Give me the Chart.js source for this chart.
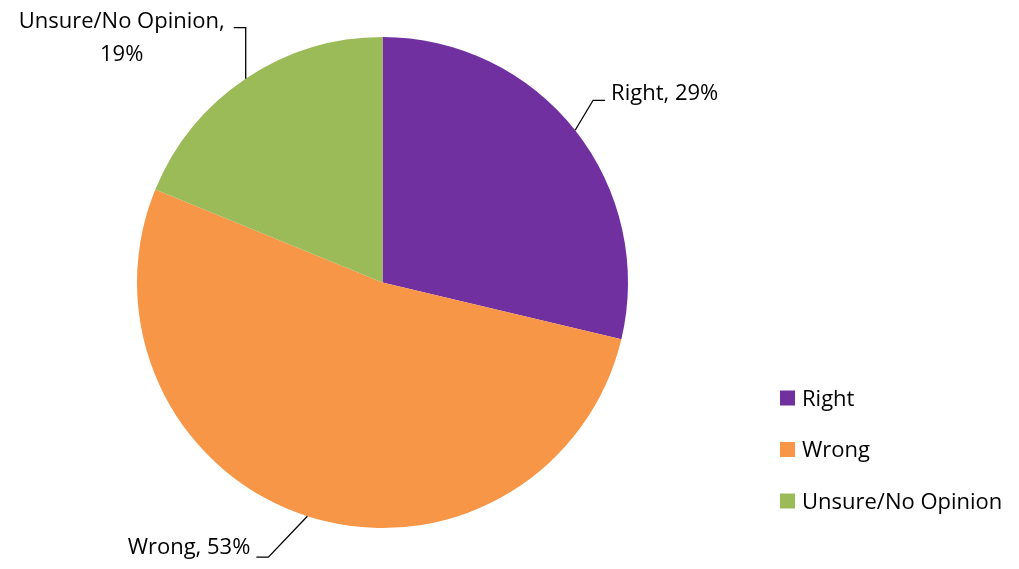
<!DOCTYPE html>
<html>
<head>
<meta charset="utf-8">
<script src="https://cdn.jsdelivr.net/npm/chart.js@4"></script>
<style>
    html, body { margin: 0; padding: 0; background: #fff; }
    #wrap { width: 1019px; height: 569px; position: relative; }
</style>
</head>
<body>
<div id="wrap"><canvas id="pieChart"></canvas></div>
<script>
const categories = ['Right', 'Wrong', 'Unsure/No Opinion'];
const shares = [29, 53, 19];
const sliceColors = ['#7030A0', '#F79646', '#9BBB59'];

const FONT = '22px "Open Sans", Carlito, Calibri, sans-serif';

// leader line layout per slice: elbow offset from arc point, then a short horizontal run
const leaderLayout = [
    { dx: 18, dy: -30, run: 12, side: 'right', base: 0, lines: (c, v) => [c + ', ' + v + '%'] },
    { dx: -39, dy: 41, run: -12, side: 'left', base: -3, lines: (c, v) => [c + ', ' + v + '%'] },
    { dx: 0, dy: -51, run: -12, side: 'left', base: 0, lines: (c, v) => [c + ',', v + '%'] },
];

const leaderLabels = {
    id: 'leaderLabels',
    afterDatasetsDraw(chart) {
        const ctx = chart.ctx;
        const meta = chart.getDatasetMeta(0);
        ctx.save();
        ctx.font = FONT;
        ctx.fillStyle = '#000';
        ctx.strokeStyle = '#000';
        ctx.lineWidth = 1.3;
        meta.data.forEach((arc, i) => {
            const mid = (arc.startAngle + arc.endAngle) / 2;
            const ax = arc.x + Math.cos(mid) * arc.outerRadius;
            const ay = arc.y + Math.sin(mid) * arc.outerRadius;
            const lay = leaderLayout[i];
            const ex = ax + lay.dx, ey = ay + lay.dy;
            const hx = ex + lay.run;
            ctx.beginPath();
            ctx.moveTo(ax, ay);
            ctx.lineTo(ex, ey);
            ctx.lineTo(hx, ey);
            ctx.stroke();

            const lines = lay.lines(chart.data.labels[i], chart.data.datasets[0].data[i]);
            const lineH = 33;
            ctx.textBaseline = 'alphabetic';
            if (lines.length === 1) {
                ctx.textAlign = lay.side === 'right' ? 'left' : 'right';
                const tx = lay.side === 'right' ? hx + 6 : hx - 6;
                ctx.fillText(lines[0], tx, ey + lay.base);
            } else {
                // two-line label, centred block, first line ends near the leader
                const w0 = ctx.measureText(lines[0]).width;
                const cx = hx - 9 - w0 / 2;
                ctx.textAlign = 'center';
                ctx.fillText(lines[0], cx, ey + lay.base);
                ctx.fillText(lines[1], cx, ey + lay.base + lineH);
            }
        });
        ctx.restore();
    }
};

const sideLegend = {
    id: 'sideLegend',
    afterDraw(chart) {
        const ctx = chart.ctx;
        ctx.save();
        ctx.font = FONT;
        ctx.textAlign = 'left';
        ctx.textBaseline = 'alphabetic';
        categories.forEach((label, i) => {
            const y = 398 + i * 51.5;
            ctx.fillStyle = sliceColors[i];
            ctx.fillRect(780, y - 7.5, 15, 15);
            ctx.fillStyle = '#000';
            ctx.fillText(label, 802, y + 7.5);
        });
        ctx.restore();
    }
};

new Chart(document.getElementById('pieChart'), {
    type: 'pie',
    data: {
        labels: categories,
        datasets: [{
            data: shares,
            backgroundColor: sliceColors,
            borderWidth: 0,
        }],
    },
    options: {
        responsive: true,
        maintainAspectRatio: false,
        animation: false,
        layout: {
            padding: { left: 137, top: 37, right: 391, bottom: 41 },
        },
        plugins: {
            legend: { display: false },
            tooltip: { enabled: false },
        },
    },
    plugins: [leaderLabels, sideLegend],
});
</script>
</body>
</html>
